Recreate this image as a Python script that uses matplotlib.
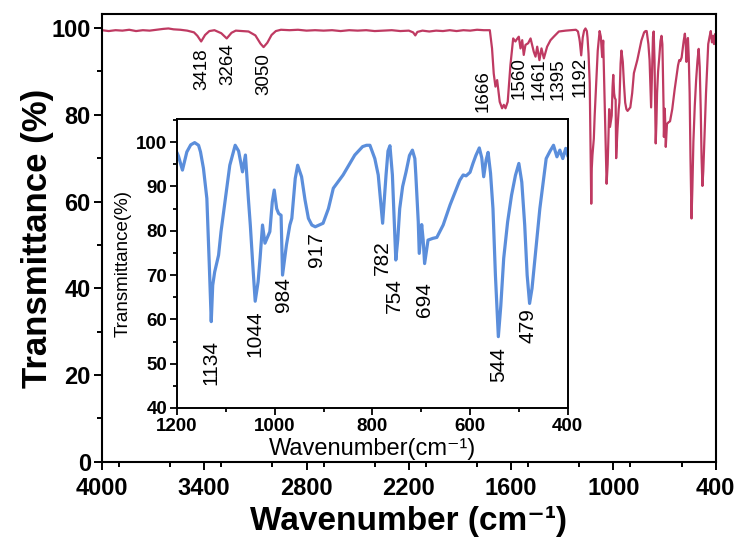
import matplotlib
matplotlib.use("Agg")
import matplotlib.pyplot as plt
from matplotlib.ticker import MultipleLocator

plt.rcParams['font.family'] = ['Liberation Sans', 'DejaVu Sans']

# ---------------- data ----------------
wavenumber = [4000, 3960, 3920, 3880, 3840, 3800, 3760, 3720, 3680, 3640, 3610, 3580, 3540, 3500,
              3460, 3440, 3418, 3395, 3370, 3340, 3300, 3268, 3240, 3215, 3180, 3140, 3100, 3070,
              3052, 3030, 3005, 2980, 2950, 2900, 2850, 2800, 2750, 2700, 2650, 2600, 2550, 2500,
              2450, 2400, 2350, 2300, 2250, 2200, 2175, 2162, 2150, 2120, 2080, 2040, 2000, 1960,
              1920, 1880, 1840, 1800, 1760, 1725, 1712, 1702, 1692, 1682, 1667, 1653, 1643, 1633,
              1620, 1604, 1588, 1575, 1565, 1555, 1545, 1535, 1526, 1516, 1500, 1486, 1467, 1457,
              1447, 1434, 1422, 1408, 1389, 1369, 1350, 1320, 1280, 1252, 1220, 1208,
              1200, 1197, 1189, 1180, 1172, 1164, 1156, 1152, 1146, 1139, 1134, 1130, 1127, 1123,
              1115, 1110, 1102, 1092, 1081, 1074, 1066, 1060, 1054, 1050, 1044, 1040, 1034, 1030,
              1025, 1020, 1010, 1005, 1001, 996, 992, 987, 984, 976, 969, 965, 958, 953, 945, 938,
              931, 924, 917, 901, 890, 880, 860, 836, 820, 812, 805, 795, 788, 779, 772, 768, 764,
              759, 752, 748, 744, 738, 731, 724, 718, 713, 711, 706, 704, 699, 696, 693, 686, 676,
              668, 655, 641, 621, 614, 608, 600, 594, 588, 581, 576, 572, 567, 563, 558, 553, 548,
              542, 537, 531, 523, 515, 507, 500, 494, 488, 483, 478, 473, 467, 457, 450, 444, 436,
              429, 422, 416, 410, 404, 400]
transmittance = [99.5, 99.3, 99.5, 99.4, 99.6, 99.3, 99.5, 99.4, 99.6, 99.8, 99.9, 99.7, 99.6, 99.4,
                 99.0, 98.2, 96.9, 98.4, 99.3, 99.5, 98.8, 97.6, 98.9, 99.4, 99.3, 99.2, 98.3, 96.4,
                 95.6, 96.6, 98.4, 99.3, 99.6, 99.5, 99.6, 99.4, 99.5, 99.4, 99.5, 99.3, 99.5, 99.4,
                 99.5, 99.3, 99.4, 99.5, 99.3, 99.4, 99.0, 98.3, 99.1, 99.4, 99.2, 99.4, 99.3, 99.5,
                 99.3, 99.5, 99.4, 99.6, 99.5, 99.5, 95.3, 89.5, 86.5, 88.0, 83.0, 81.5, 82.3, 81.5,
                 83.0, 91.5, 97.6, 96.9, 97.5, 98.0, 95.3, 97.2, 93.8, 96.1, 96.5, 97.6, 94.5, 93.4,
                 95.7, 92.6, 95.3, 93.0, 95.7, 97.2, 98.0, 99.2, 99.4, 99.5, 99.6, 99.2,
                 97.6, 96.8, 93.7, 97.8, 99.4, 99.9, 99.3, 97.8, 94.1, 87.3, 72.3, 59.5, 67.7, 70.7,
                 74.5, 79.8, 86.5, 94.8, 99.3, 98.0, 93.3, 97.1, 87.3, 81.3, 70.7, 64.1, 68.5, 73.8,
                 81.3, 77.2, 79.8, 86.5, 89.2, 85.0, 83.9, 83.5, 70.0, 76.8, 81.3, 82.8, 91.8, 94.8,
                 92.2, 87.0, 82.8, 81.3, 80.9, 81.7, 85.0, 89.6, 92.6, 97.1, 99.0, 99.3, 99.3, 96.3,
                 92.6, 81.7, 92.6, 98.0, 99.2, 92.6, 73.4, 78.0, 85.0, 90.0, 93.3, 97.0, 98.2, 96.3,
                 92.6, 82.0, 74.9, 81.4, 78.0, 72.6, 77.9, 78.3, 78.5, 81.3, 85.8, 91.4, 92.6, 92.4,
                 93.2, 95.2, 97.0, 98.7, 96.5, 92.2, 96.0, 97.7, 93.0, 85.0, 70.0, 56.1, 63.0, 73.8,
                 82.0, 88.0, 92.5, 95.2, 91.0, 81.3, 70.0, 63.6, 67.0, 73.8, 85.0, 91.0, 96.3, 98.0,
                 99.3, 96.7, 98.2, 96.3, 98.6, 97.0]

main_peak_labels = ['3418', '3264', '3050', '1666', '1560', '1461', '1395', '1192']
main_label_x = [3415, 3260, 3049, 1764, 1551, 1434, 1322, 1193]
main_label_top = [95.4, 96.5, 94.2, 90.3, 93.3, 93.1, 93.1, 93.3]

inset_peak_labels = ['1134', '1044', '984', '917', '782', '754', '694', '544', '479']
inset_label_x = [1130, 1040, 981, 915, 779, 754, 694, 542, 481]
inset_label_top = [55.3, 62.1, 69.6, 79.6, 77.9, 69.3, 68.5, 53.8, 62.5]

main_xticks = [4000, 3400, 2800, 2200, 1600, 1000, 400]
main_yticks = [0, 20, 40, 60, 80, 100]
inset_xticks = [1200, 1000, 800, 600, 400]
inset_yticks = [40, 50, 60, 70, 80, 90, 100]

RED = '#BF3A62'
BLUE = '#5B8EDB'

fig = plt.figure(figsize=(7.44, 5.44), dpi=100)
ax = fig.add_axes([0.137, 0.151, 0.825, 0.823])
ax.plot(wavenumber, transmittance, color=RED, lw=1.6)
ax.set_xlim(4000, 400)
ax.set_ylim(0, 103.2)
ax.set_xticks(main_xticks)
ax.set_yticks(main_yticks)
ax.xaxis.set_minor_locator(MultipleLocator(300))
ax.yaxis.set_minor_locator(MultipleLocator(10))
ax.tick_params(which='both', direction='out', width=1.4)
ax.tick_params(which='major', length=6, labelsize=17)
ax.tick_params(axis='x', which='major', pad=5)
ax.tick_params(axis='y', which='major', pad=2)
ax.tick_params(which='minor', length=3.5)
for lab in ax.get_xticklabels() + ax.get_yticklabels():
    lab.set_fontweight('bold')
for s in ax.spines.values():
    s.set_linewidth(1.5)
ax.set_xlabel('Wavenumber (cm\u207b\u00b9)', fontsize=24, fontweight='bold', labelpad=4)
ax.set_ylabel('Transmittance (%)', fontsize=25, fontweight='bold', labelpad=-2)
for t, x, y in zip(main_peak_labels, main_label_x, main_label_top):
    ax.text(x, y, t, rotation=90, ha='center', va='top', fontsize=13.5)

ins = fig.add_axes([0.238, 0.25, 0.525, 0.531])
ins.set_facecolor('white')
ins.plot(wavenumber, transmittance, color=BLUE, lw=2.3)
ins.set_xlim(1200, 400)
ins.set_ylim(40, 105.2)
ins.set_xticks(inset_xticks)
ins.set_yticks(inset_yticks)
ins.xaxis.set_minor_locator(MultipleLocator(100))
ins.yaxis.set_minor_locator(MultipleLocator(5))
ins.tick_params(which='both', direction='out', width=1.3)
ins.tick_params(which='major', length=5, labelsize=13.5, pad=2)
ins.tick_params(which='minor', length=3)
for lab in ins.get_xticklabels() + ins.get_yticklabels():
    lab.set_fontweight('bold')
for s in ins.spines.values():
    s.set_linewidth(1.4)
ins.set_xlabel('Wavenumber(cm\u207b\u00b9)', fontsize=17, labelpad=2)
ins.set_ylabel('Transmittance(%)', fontsize=13.5, labelpad=3)
for t, x, y in zip(inset_peak_labels, inset_label_x, inset_label_top):
    ins.text(x, y, t, rotation=90, ha='center', va='top', fontsize=15)

fig.savefig('out.png', dpi=100)
